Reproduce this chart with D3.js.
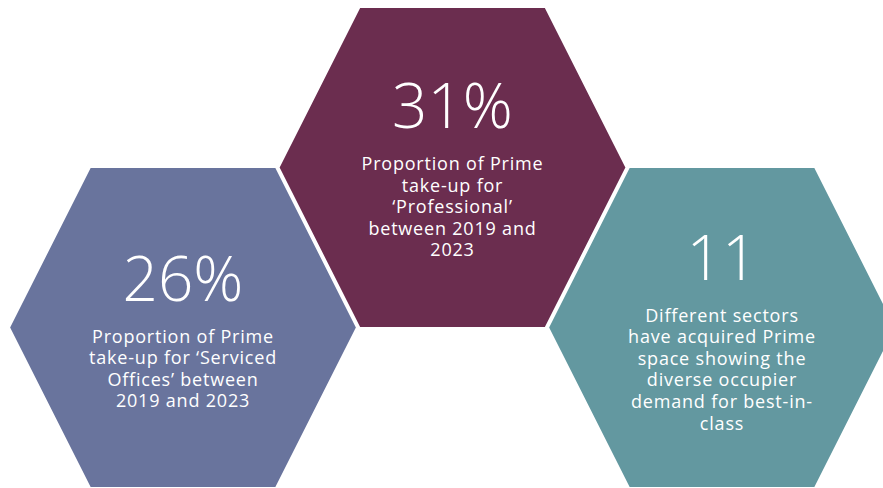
<!DOCTYPE html>
<html>
<head>
<meta charset="utf-8">
<script src="https://cdn.jsdelivr.net/npm/d3@7"></script>
<style>
  html, body { margin: 0; padding: 0; background: #fff; }
  svg { display: block; font-family: "Open Sans", "Lato", sans-serif; }
</style>
</head>
<body>
<div id="chart"></div>
<script>
// figures shown in each hexagon
var stats = ["26%", "31%", "11"];
var captions = [
  ["Proportion of Prime", "take-up for \u2018Serviced", "Offices\u2019 between", "2019 and 2023"],
  ["Proportion of Prime", "take-up for", "\u2018Professional\u2019", "between 2019 and", "2023"],
  ["Different sectors", "have acquired Prime", "space showing the", "diverse occupier", "demand for best-in-", "class"]
];
var colours = ["#69749D", "#6B2D4F", "#6398A0"];

var width = 883, height = 488;
var halfW = 174, halfH = 160.5, topHalf = 93;

var svg = d3.select('#chart').append('svg')
  .attr('width', width).attr('height', height);

var x = d3.scaleLinear().domain([0, 2]).range([183, 722]);
var y = d3.scalePoint().domain(["low", "high"]).range([327.5, 167.5]);

var hexLine = d3.line().curve(d3.curveLinearClosed);
function hexPoints(cx, cy) {
  return [
    [cx - topHalf, cy - halfH], [cx + topHalf, cy - halfH], [cx + halfW, cy],
    [cx + topHalf, cy + halfH], [cx - topHalf, cy + halfH], [cx - halfW, cy]
  ];
}

var cells = svg.selectAll('.hex').data(stats).enter().append('g')
  .attr('class', 'hex')
  .attr('transform', function(d, i) {
    return 'translate(' + x(i) + ',' + y(i % 2 ? "high" : "low") + ')';
  });

cells.append('path')
  .attr('d', function() { return hexLine(hexPoints(0, 0)); })
  .style('fill', function(d, i) { return colours[i]; })
  .style('stroke', '#fff').style('stroke-width', 2);

cells.append('text')
  .attr('text-anchor', 'middle')
  .attr('y', function(d, i) { return i == 1 ? -40 : i == 0 ? -27 : -48; })
  .style('fill', '#fff').style('font-size', '62px').style('font-weight', 300)
  .text(function(d) { return d; });

cells.each(function(d, i) {
  var top = i == 1 ? 2.5 : i == 0 ? 15 : -6;
  d3.select(this).selectAll('.cap').data(captions[i]).enter().append('text')
    .attr('class', 'cap')
    .attr('text-anchor', 'middle')
    .attr('y', function(line, j) { return top + j * 21.6; })
    .style('fill', '#fff').style('font-size', '18px').style('letter-spacing', '0.8px')
    .text(function(line) { return line; });
});
</script>
</body>
</html>
